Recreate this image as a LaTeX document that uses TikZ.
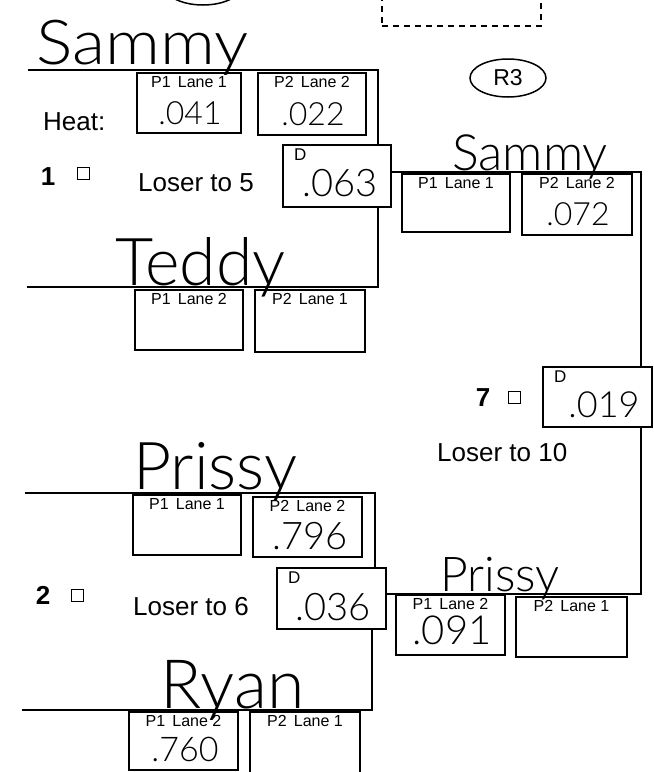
\documentclass[tikz,border=0pt]{standalone}
\usepackage{fontspec}
\setmainfont{Liberation Sans}
\IfFontExistsTF{Lato Light}{\newfontfamily\hand{Lato Light}}{\newfontfamily\hand{Lato}}
\usetikzlibrary{shapes.geometric}
\tikzset{
 conn/.style={line width=1.8pt},
 box/.style={draw, line width=1.6pt, rectangle, inner sep=0pt, outer sep=0pt},
 lbl/.style={font=\fontsize{16}{17}\selectfont, inner sep=0pt, anchor=north},
 dl/.style={font=\fontsize{17}{18}\selectfont, inner sep=0pt, anchor=north west},
 txt/.style={font=\fontsize{26}{28}\selectfont, inner sep=0pt},
 num/.style={font=\bfseries\fontsize{26}{28}\selectfont, inner sep=0pt},
 chk/.style={draw, line width=1pt, minimum size=12pt, inner sep=0pt},
 hw/.style={font=\hand\fontsize{34}{36}\selectfont, inner sep=0pt},
 hname/.style={inner sep=0pt, anchor=base west},
}
\newcommand{\hsz}[1]{\hand\fontsize{#1}{#1}\selectfont}
\begin{document}
\begin{tikzpicture}[x=1pt,y=-1pt]
\useasboundingbox (0,0) rectangle (654,772);
\clip (0,0) rectangle (654,772);
% decorations at the top
\node[draw, ellipse, line width=1.5pt, minimum width=80pt, minimum height=42pt] (r2) at (203,-16) {};
\node[draw, dashed, dash pattern=on 6pt off 5pt, line width=1.4pt, minimum width=159pt, minimum height=60pt, inner sep=0pt] (note) at (461.5,-4) {};
\node[draw, ellipse, line width=1.5pt, minimum width=76pt, minimum height=38pt, inner sep=0pt, font=\fontsize{23}{24}\selectfont] (r3) at (508,78) {R3};

% heat 1
\node[box, minimum width=104pt, minimum height=60pt] (h1a) at (189,103) {};
\node[box, minimum width=108pt, minimum height=62pt] (h1b) at (312,104) {};
\node[box, minimum width=108pt, minimum height=62pt] (h1d) at (337,176) {};
\node[box, minimum width=108pt, minimum height=60pt] (h1c) at (189,320) {};
\node[box, minimum width=110pt, minimum height=62pt] (h1e) at (310,321) {};
\node[lbl] at ([yshift=-3pt]h1a.north) {P1\hspace{0.45em}Lane 1};
\node[lbl] at ([yshift=-3pt]h1b.north) {P2\hspace{0.45em}Lane 2};
\node[lbl] at ([yshift=-3pt]h1c.north) {P1\hspace{0.45em}Lane 2};
\node[lbl] at ([yshift=-3pt]h1e.north) {P2\hspace{0.45em}Lane 1};
\node[dl] at ([xshift=11pt,yshift=-4pt]h1d.north west) {D};
\coordinate (h1tl) at (28,70);
\coordinate (h1tr) at (378,70);
\coordinate (h1bl) at (27,287);
\coordinate (h1br) at (378,287);
\draw[conn] (h1tl) -- (h1tr) -- (h1tr |- h1d.north);
\draw[conn] (h1bl) -- (h1br) -- (h1br |- h1d.south);
\node[txt, anchor=west] (heat) at (43,122) {Heat:};
\node[num] (n1) at (48,177) {1};
\node[chk] (c1) at (83.5,173.5) {};
\node[txt, anchor=west] (l5) at (138,183) {Loser to 5};

% heat 2
\node[box, minimum width=108pt, minimum height=60pt] (h2a) at (187,525) {};
\node[box, minimum width=109pt, minimum height=60pt] (h2b) at (307.5,527) {};
\node[box, minimum width=109pt, minimum height=61pt] (h2d) at (331.5,598.5) {};
\node[box, minimum width=109pt, minimum height=58pt] (h2c) at (183.5,741) {};
\node[box, minimum width=110pt, minimum height=68pt] (h2e) at (305,746) {};
\node[lbl] at ([yshift=-3pt]h2a.north) {P1\hspace{0.45em}Lane 1};
\node[lbl] at ([yshift=-3pt]h2b.north) {P2\hspace{0.45em}Lane 2};
\node[lbl] at ([yshift=-3pt]h2c.north) {P1\hspace{0.45em}Lane 2};
\node[lbl] at ([yshift=-3pt]h2e.north) {P2\hspace{0.45em}Lane 1};
\node[dl] at ([xshift=11pt,yshift=-4pt]h2d.north west) {D};
\coordinate (h2tl) at (25,493);
\coordinate (h2tr) at (375,493);
\coordinate (h2bl) at (22,710);
\coordinate (h2br) at (372,710);
\draw[conn] (h2tl) -- (h2tr) -- (h2tr |- h2d.north);
\draw[conn] (h2bl) -- (h2br) -- (h2br |- h2d.south);
\node[num] (n2) at (43,595) {2};
\node[chk] (c2) at (77.5,595) {};
\node[txt, anchor=west] (l6) at (133,607) {Loser to 6};

% round 3 (heat 7)
\node[box, minimum width=108pt, minimum height=58pt] (r3a) at (456,203) {};
\node[box, minimum width=110pt, minimum height=61pt] (r3b) at (577,204.5) {};
\node[box, minimum width=109pt, minimum height=60pt] (d7) at (597.5,397) {};
\node[box, minimum width=109pt, minimum height=60pt] (r3c) at (450.5,625) {};
\node[box, minimum width=111pt, minimum height=60pt] (r3d) at (571.5,627) {};
\node[lbl] at ([yshift=-3pt]r3a.north) {P1\hspace{0.45em}Lane 1};
\node[lbl] at ([yshift=-3pt]r3b.north) {P2\hspace{0.45em}Lane 2};
\node[lbl] at ([yshift=-3pt]r3c.north) {P1\hspace{0.45em}Lane 2};
\node[lbl] at ([yshift=-3pt]r3d.north) {P2\hspace{0.45em}Lane 1};
\node[dl] at ([xshift=11pt,yshift=-4pt]d7.north west) {D};
\coordinate (r3tr) at (641,172);
\coordinate (r3br) at (641,594);
\draw[conn] (h1d.east |- r3tr) -- (r3tr) -- (r3tr |- d7.north);
\draw[conn] (h2d.east |- r3br) -- (r3br) -- (r3br |- d7.south);
\node[num] (n7) at (483,398) {7};
\node[chk] (c7) at (514,397.5) {};
\node[txt, anchor=west] (l10) at (437,453) {Loser to 10};

% handwriting
\node[hname, font=\hsz{62}] (w1) at (36,64) {\scalebox{1.1}[1]{Sammy}};
\node[hname, font=\hsz{66}] (w2) at (115,285) {Teddy};
\node[hname, font=\hsz{50}] (w3) at (452,170) {Sammy};
\node[hname, font=\hsz{66}] (w4) at (133,489) {Prissy};
\node[hname, font=\hsz{68}] (w5) at (160,708) {Ryan};
\node[hname, font=\hsz{48}] (w6) at (440,591) {Prissy};
\node[hw, font=\hsz{32}] at (190,113) {.041};
\node[hw, font=\hsz{32}] at (313,114) {.022};
\node[hw, font=\hsz{38}] at (340,183) {.063};
\node[hw, font=\hsz{32}] at (578,214) {.072};
\node[hw, font=\hsz{36}] at (604,405) {.019};
\node[hw, font=\hsz{38}] at (310,536) {.796};
\node[hw, font=\hsz{38}] at (333,607) {.036};
\node[hw, font=\hsz{40}] at (452,630) {.091};
\node[hw, font=\hsz{34}] at (185,749) {.760};
\end{tikzpicture}
\end{document}
